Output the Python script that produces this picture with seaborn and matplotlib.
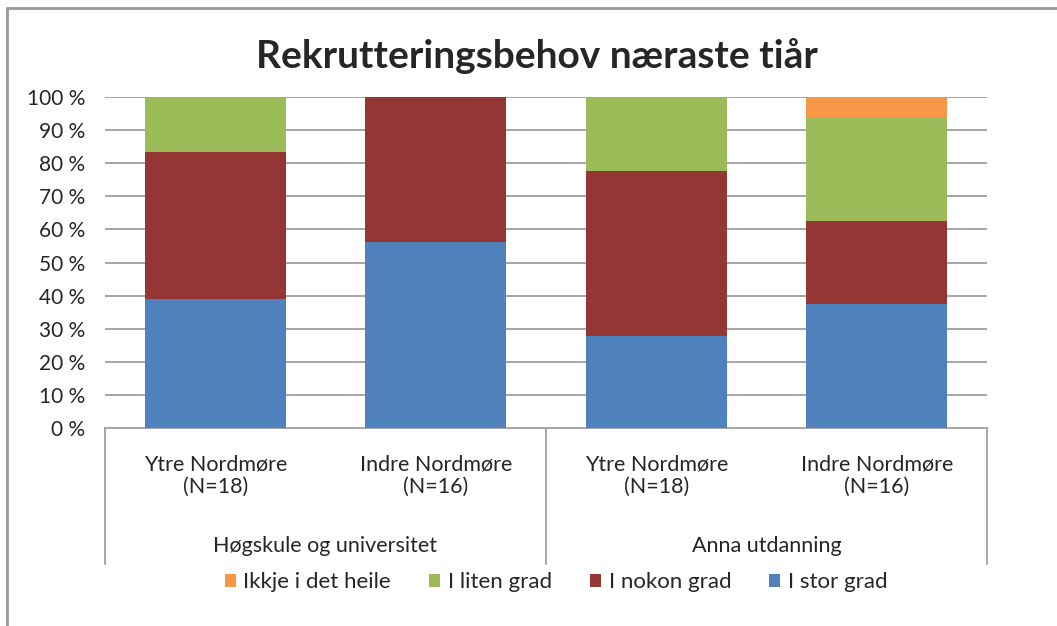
import numpy as np
import pandas as pd
import matplotlib
matplotlib.use("Agg")
import matplotlib.pyplot as plt
import seaborn as sns
from matplotlib.lines import Line2D

# data (percent of respondents)
keys = ["HU_Ytre", "HU_Indre", "AU_Ytre", "AU_Indre"]
tick_labels = ["Ytre Nordmøre\n(N=18)", "Indre Nordmøre\n(N=16)",
               "Ytre Nordmøre\n(N=18)", "Indre Nordmøre\n(N=16)"]
groups = ["Høgskule og universitet", "Anna utdanning"]
series = ["Ikkje i det heile", "I liten grad", "I nokon grad", "I stor grad"]
stor_grad = [38.9, 56.25, 27.8, 37.5]
nokon_grad = [44.4, 43.75, 50.0, 25.0]
liten_grad = [16.7, 0.0, 22.2, 31.25]
ikkje = [0.0, 0.0, 0.0, 6.25]
colors = ["#F79646", "#9BBB59", "#943634", "#4F81BD"]

sns.set_style("white")
plt.rcParams["font.family"] = ["Lato", "DejaVu Sans"]

df = pd.DataFrame({"key": keys, "stor": stor_grad, "nokon": nokon_grad,
                   "liten": liten_grad, "ikkje": ikkje})
df["c_stor"] = df["stor"]
df["c_nokon"] = df["c_stor"] + df["nokon"]
df["c_liten"] = df["c_nokon"] + df["liten"]
df["c_ikkje"] = df["c_liten"] + df["ikkje"]

fig = plt.figure(figsize=(10.57, 6.26), dpi=100)
ax = fig.add_axes([0.0993, 0.3163, 0.8345, 0.5287])

# stacked bars by overlaying cumulative totals
for col, name, c in zip(["c_ikkje", "c_liten", "c_nokon", "c_stor"], series, colors):
    sns.barplot(data=df, x="key", y=col, order=keys, color=c, width=0.64,
                label=name, ax=ax, saturation=1, linewidth=0, zorder=3)

ax.set_ylim(0, 100)
ax.set_xlim(-0.5, 3.5)
ax.set_yticks(np.arange(0, 101, 10))
ax.set_yticklabels([f"{v} %" for v in range(0, 101, 10)], fontsize=15)
ax.set_xticks(range(4))
ax.set_xticklabels(tick_labels, fontsize=15.5, linespacing=1.15)
ax.tick_params(axis="x", length=0, pad=19)
ax.tick_params(axis="y", length=0, pad=14)
ax.set_xlabel("")
ax.set_ylabel("")
ax.yaxis.grid(True, color="#A6A6A6", lw=1.4, zorder=0)
ax.set_axisbelow(True)
for s in ["left", "right", "top"]:
    ax.spines[s].set_visible(False)
ax.spines["bottom"].set_color("#A6A6A6")
ax.spines["bottom"].set_linewidth(1.4)

# group separators and labels
for xs in [0, 0.5, 1]:
    ax.plot([xs, xs], [0, -0.41], transform=ax.transAxes, color="#A6A6A6",
            lw=1.4, clip_on=False)
for i, g in enumerate(groups):
    ax.text(0.25 + 0.5 * i, -0.356, g, transform=ax.transAxes, ha="center",
            va="center", fontsize=15.5)

fig.text(0.508, 0.91, "Rekrutteringsbehov næraste tiår", ha="center",
         va="center", fontsize=28, fontweight="bold")

handles, labels = ax.get_legend_handles_labels()
ax.legend(handles, labels, loc="center", bbox_to_anchor=(0.526, 0.07),
          bbox_transform=fig.transFigure, ncol=4, frameon=False, fontsize=16,
          handlelength=0.5, handleheight=0.5, handletextpad=0.35,
          columnspacing=1.7)

# outer frame: only top and left edges are visible
fig.lines.append(Line2D([0.007, 1.0], [0.987, 0.987], transform=fig.transFigure,
                        color="#999999", lw=2))
fig.lines.append(Line2D([0.007, 0.007], [0.0, 0.987], transform=fig.transFigure,
                        color="#999999", lw=2))

fig.savefig("out.png", dpi=100)
